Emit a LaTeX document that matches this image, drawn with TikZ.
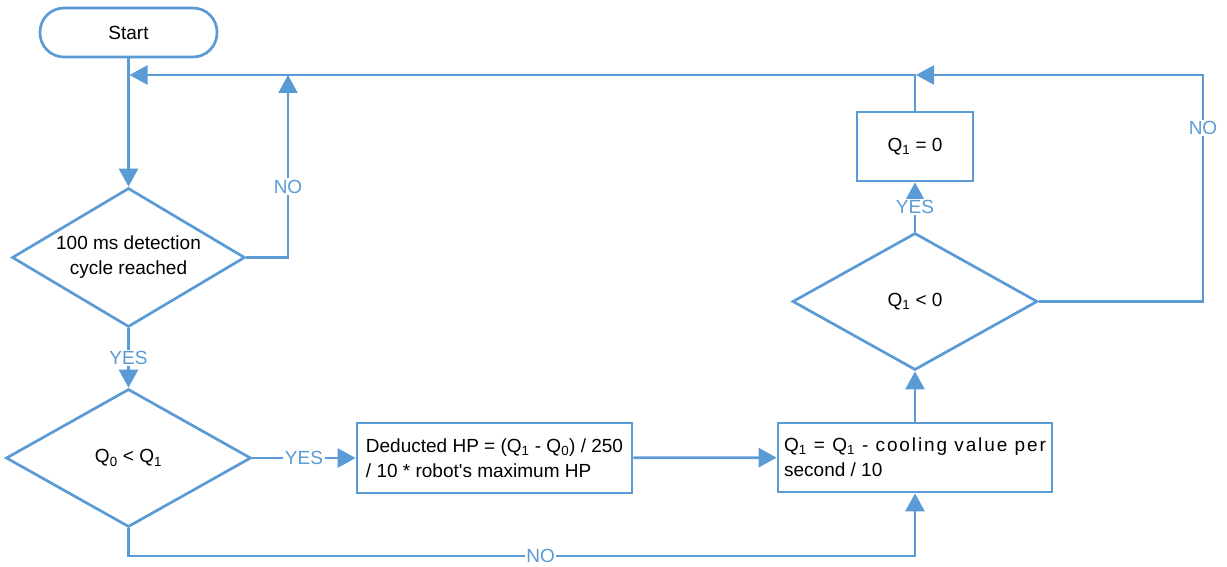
\documentclass[tikz,border=0pt]{standalone}
\usepackage{fontspec}
\setmainfont{Liberation Sans}[Ligatures=TeXOff]
\newfontfamily\spaced{Liberation Sans}[LetterSpace=10,Ligatures=TeXOff]
\usetikzlibrary{shapes.geometric,arrows.meta}
\definecolor{fc}{HTML}{5B9BD5}
\begin{document}
\begin{tikzpicture}[x=1pt,y=-1pt, font=\fontsize{19}{25}\selectfont,
 line/.style={draw=fc, line width=2.7pt},
 flow/.style={line, -{Triangle[length=18pt,width=19pt]}},
 dec/.style={diamond, aspect=1.7, draw=fc, line width=2.7pt, inner sep=0pt, align=center},
 proc/.style={rectangle, draw=fc, line width=2.7pt, inner sep=2pt, align=left},
 lbl/.style={fill=white, text=fc, inner sep=1.5pt},
 term/.style={rectangle, rounded corners=24pt, draw=fc, line width=2.7pt}]
\useasboundingbox (0,0) rectangle (1227,567);

\node[term, minimum width=177pt, minimum height=49pt] (start) at (128.5,32.5) {Start};
\node[dec, minimum width=233pt, minimum height=139pt] (d1) at (128.5,257.5) {100 ms detection\\cycle reached};
\node[dec, minimum width=245pt, minimum height=138pt] (d2) at (128.5,458) {Q\textsubscript{0} < Q\textsubscript{1}};
\node[proc, minimum width=275pt, minimum height=70pt] (b1) at (494.5,458) {Deducted HP = (Q\textsubscript{1} - Q\textsubscript{0}) / 250\\/ 10 * robot's maximum HP};
\node[proc, minimum width=274pt, minimum height=69pt] (b2) at (915,457.5) {{\spaced Q\textsubscript{1} = Q\textsubscript{1} - cooling value per}\\second / 10};
\node[dec, minimum width=245pt, minimum height=137pt] (d3) at (915,301.5) {Q\textsubscript{1} < 0};
\node[proc, minimum width=116pt, minimum height=69pt, align=center] (q0) at (915,146.5) {Q\textsubscript{1} = 0};

\coordinate (t1) at (129.5,75);
\coordinate (n1) at (288,75);
\coordinate (j) at (916,75);
\coordinate (r) at (1203,75);
\coordinate (bl) at (128.5,556);

\draw[flow] (start) -- (d1);
\draw[flow] (d1.east) -| node[lbl, pos=0.694]{NO} (n1);
\draw[flow] (d1) -- node[lbl]{YES} (d2);
\draw[flow] (d2) -- node[lbl]{YES} (b1);
\draw[flow] (b1) -- (b2);
\draw[flow] (d2.south) -- (bl) -| node[lbl, pos=0.262]{NO} (b2.south);
\draw[flow] (b2) -- (d3);
\draw[flow] (d3) -- node[lbl]{YES} (q0);
\draw[flow] (d3.east) -| node[lbl, pos=0.883]{NO} (r) -- (j);
\draw[flow] (q0.north) |- (t1);
\end{tikzpicture}
\end{document}
